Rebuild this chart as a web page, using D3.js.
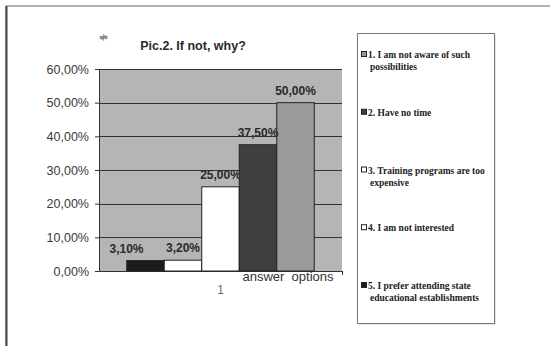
<!DOCTYPE html>
<html>
<head>
<meta charset="utf-8">
<script src="https://cdn.jsdelivr.net/npm/d3@7/dist/d3.min.js"></script>
<style>
  html, body { margin: 0; padding: 0; background: #fff; }
  svg { display: block; }
</style>
</head>
<body>
<svg id="chart" width="550" height="346"></svg>
<script>
// Survey answers, in legend order
const seriesNames = [
  "1. I am not aware of such|possibilities",
  "2. Have no time",
  "3. Training programs are too|expensive",
  "4. I am not interested",
  "5. I prefer attending state|educational establishments"
];
const seriesValues = [0.50, 0.375, 0.25, 0.032, 0.031];
const seriesColors = ["#9a9a9a", "#3f3f3f", "#ffffff", "#ffffff", "#1c1c1c"];
const categories = ["1"];
const yTicks = [0, 0.1, 0.2, 0.3, 0.4, 0.5, 0.6];

const svg = d3.select("#chart");
const fmt = v => d3.format(".2f")(v * 100).replace(".", ",") + "%";

// Outer frame
svg.append("rect").attr("x", 6).attr("y", 6).attr("width", 560).attr("height", 360)
  .attr("fill", "none").attr("stroke", "#6a6a6a").attr("stroke-width", 1);
svg.append("line").attr("x1", 6.5).attr("x2", 6.5).attr("y1", 6).attr("y2", 346)
  .attr("stroke", "#444").attr("stroke-width", 2);

const plot = { left: 99, right: 342, top: 69, bottom: 271 };

const y = d3.scaleLinear().domain([0, 0.6]).range([plot.bottom, plot.top]);
const x0 = d3.scaleBand().domain(categories).range([plot.left, plot.right])
  .paddingInner(0).paddingOuter(0.148);
// Bars are drawn from the last series to the first
const barOrder = d3.range(seriesNames.length).reverse();
const x1 = d3.scaleBand().domain(barOrder).range([0, x0.bandwidth()]).padding(0);

// Plot area background
svg.append("rect").attr("x", plot.left).attr("y", plot.top)
  .attr("width", plot.right - plot.left).attr("height", plot.bottom - plot.top)
  .attr("fill", "#b5b5b5");

// Gridlines
svg.append("g").selectAll("line").data(yTicks.slice(1)).join("line")
  .attr("x1", plot.left).attr("x2", plot.right)
  .attr("y1", d => Math.round(y(d)) + 0.5).attr("y2", d => Math.round(y(d)) + 0.5)
  .attr("stroke", "#333").attr("stroke-width", 1);

// Y axis
const yAxis = svg.append("g").attr("transform", `translate(${plot.left},0)`)
  .call(d3.axisLeft(y).tickValues(yTicks).tickFormat(fmt).tickSize(4).tickPadding(6));
yAxis.select(".domain").attr("stroke", "#333");
yAxis.selectAll(".tick line").attr("stroke", "#333");
yAxis.selectAll("text").attr("font-family", "Liberation Sans, Arial, sans-serif")
  .attr("font-size", 12.5).attr("fill", "#3a3a3a");

// X axis
const xAxis = svg.append("g").attr("transform", `translate(0,${plot.bottom})`)
  .call(d3.axisBottom(x0).tickSize(0).tickPadding(14));
xAxis.select(".domain").attr("stroke", "#333");
xAxis.selectAll("text").attr("font-family", "Liberation Sans, Arial, sans-serif")
  .attr("font-size", 12).attr("fill", "#666");
svg.append("line").attr("x1", plot.right + 0.5).attr("x2", plot.right + 0.5)
  .attr("y1", plot.bottom).attr("y2", plot.bottom + 4).attr("stroke", "#333");

// Bars
const g = svg.append("g").attr("transform", `translate(${x0(categories[0])},0)`);
g.selectAll("rect").data(barOrder).join("rect")
  .attr("x", i => x1(i)).attr("width", x1.bandwidth())
  .attr("y", i => y(seriesValues[i])).attr("height", i => y(0) - y(seriesValues[i]))
  .attr("fill", i => seriesColors[i]).attr("stroke", "#222").attr("stroke-width", 1);

// Value labels (the smallest one sits slightly left of its bar)
g.selectAll("text").data(barOrder).join("text")
  .attr("x", (i, k) => x1(i) + x1.bandwidth() / 2 - (k === 0 ? 19 : 0))
  .attr("y", i => y(seriesValues[i]) - 8)
  .attr("text-anchor", "middle")
  .attr("font-family", "Liberation Sans, Arial, sans-serif")
  .attr("font-size", 12).attr("font-weight", "bold").attr("fill", "#2a2a2a")
  .text(i => fmt(seriesValues[i]));

// Axis titles
svg.append("text").attr("x", 288).attr("y", 281).attr("text-anchor", "middle")
  .attr("font-family", "Liberation Sans, Arial, sans-serif")
  .attr("font-size", 13).attr("fill", "#333")
  .text("answer\u00a0\u00a0options");
svg.append("text").attr("transform", "translate(104,38) rotate(-35)")
  .attr("text-anchor", "middle").attr("dominant-baseline", "middle")
  .attr("font-family", "Liberation Sans, Arial, sans-serif")
  .attr("font-size", 8).attr("font-weight", "bold").attr("fill", "#444")
  .text("%");

// Title
svg.append("text").attr("x", 193).attr("y", 50).attr("text-anchor", "middle")
  .attr("font-family", "Liberation Sans, Arial, sans-serif")
  .attr("font-size", 12.5).attr("font-weight", "bold").attr("fill", "#2a2a2a")
  .text("Pic.2. If not, why?");

// Legend
const legend = { x: 357, y: 33, w: 137, h: 290 };
svg.append("rect").attr("x", legend.x + 1.5).attr("y", legend.y + 1.5)
  .attr("width", legend.w).attr("height", legend.h).attr("fill", "#ccc");
svg.append("rect").attr("x", legend.x + 0.5).attr("y", legend.y + 0.5)
  .attr("width", legend.w).attr("height", legend.h)
  .attr("fill", "#fff").attr("stroke", "#777");

const itemY = d3.scalePoint().domain(d3.range(seriesNames.length)).range([58, 289]);
const items = svg.append("g").selectAll("g").data(d3.range(seriesNames.length)).join("g")
  .attr("transform", i => `translate(0,${itemY(i)})`);
items.append("rect").attr("x", 361.5).attr("y", -6.5).attr("width", 5).attr("height", 5)
  .attr("fill", i => seriesColors[i]).attr("stroke", "#222").attr("stroke-width", 1);
items.append("text")
  .attr("font-family", "Liberation Serif, Times New Roman, serif")
  .attr("font-size", 9.5).attr("font-weight", "bold").attr("fill", "#222")
  .each(function (i) {
    const lines = seriesNames[i].split("|");
    d3.select(this).selectAll("tspan").data(lines).join("tspan")
      .attr("x", (d, k) => k === 0 ? 368 : 370)
      .attr("y", (d, k) => k * 12)
      .text(d => d);
  });
</script>
</body>
</html>
